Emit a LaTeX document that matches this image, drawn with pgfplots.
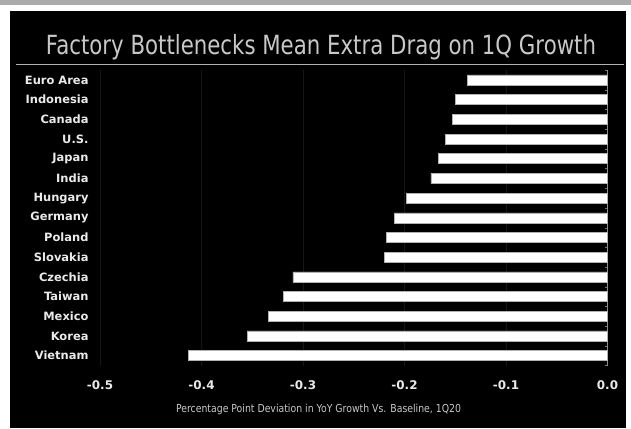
\documentclass[border=0pt]{standalone}
\usepackage{pgfplots}
\pgfplotsset{compat=1.18}
\usepackage{fontspec}
\setmainfont{DejaVu Sans}
\definecolor{titlegray}{HTML}{C8C8C8}
\definecolor{gridgray}{HTML}{161616}
\definecolor{labelwhite}{HTML}{EAEAEA}
\begin{document}
\begin{tikzpicture}[x=1bp,y=1bp]
\fill[white] (0,0) rectangle (631,428);
\fill[black!33] (0,423) rectangle (631,428);
\fill[black] (10,0) rectangle (626,417);
\node[anchor=base, inner sep=0pt, text=titlegray] at (321,373.7)
  {\resizebox{550bp}{\height}{\fontsize{26.5}{28}\selectfont Factory Bottlenecks Mean Extra Drag on 1Q Growth}};
\draw[black!30, line width=1.3bp] (16,363.7) -- (624,363.7);
\begin{axis}[
  at={(100bp,62.5bp)}, anchor=south west,
  scale only axis, width=507.5bp, height=295.4bp,
  xmin=-0.5, xmax=0, ymin=-0.5, ymax=14.5,
  xbar, bar width=10bp,
  axis line style={draw=none},
  xtick={-0.5,-0.4,-0.3,-0.2,-0.1,0},
  xticklabels={-0.5,-0.4,-0.3,-0.2,-0.1,0.0},
  xmajorgrids, grid style={color=gridgray, line width=0.8bp},
  major tick length=0pt,
  ytick={0,...,14},
  yticklabels={Vietnam,Korea,Mexico,Taiwan,Czechia,Slovakia,Poland,Germany,Hungary,India,Japan,U.S.,Canada,Indonesia,Euro Area},
  minor ytick={-0.5,0.5,...,14.5},
  minor tick length=2.5bp,
  tick align=inside,
  minor y tick style={black!55},
  ytick pos=right, yticklabel pos=left,
  xtick pos=bottom,
  xticklabel style={font=\bfseries\fontsize{12}{12}\selectfont, text=labelwhite, anchor=north, inner sep=0pt, yshift=-15bp},
  yticklabel style={font=\bfseries\fontsize{11.5}{12}\selectfont, text=labelwhite, anchor=east, inner sep=0pt, xshift=-11.3bp},
  clip=false,
]
\draw[black!45, line width=0.6bp] (axis cs:0,-0.5) -- (axis cs:0,14.5);
\addplot[fill=white, draw=black!30, line width=0.6bp] coordinates {
(-0.413,0) (-0.355,1) (-0.334,2) (-0.319,3) (-0.310,4)
(-0.220,5) (-0.218,6) (-0.210,7) (-0.198,8) (-0.174,9)
(-0.167,10) (-0.160,11) (-0.153,12) (-0.150,13) (-0.138,14)
};
\end{axis}
\node[anchor=base, inner sep=0pt, text=titlegray] at (318.5,15.7)
  {\resizebox{285bp}{\height}{\fontsize{11}{12}\selectfont Percentage Point Deviation in YoY Growth Vs. Baseline, 1Q20}};
\end{tikzpicture}
\end{document}
